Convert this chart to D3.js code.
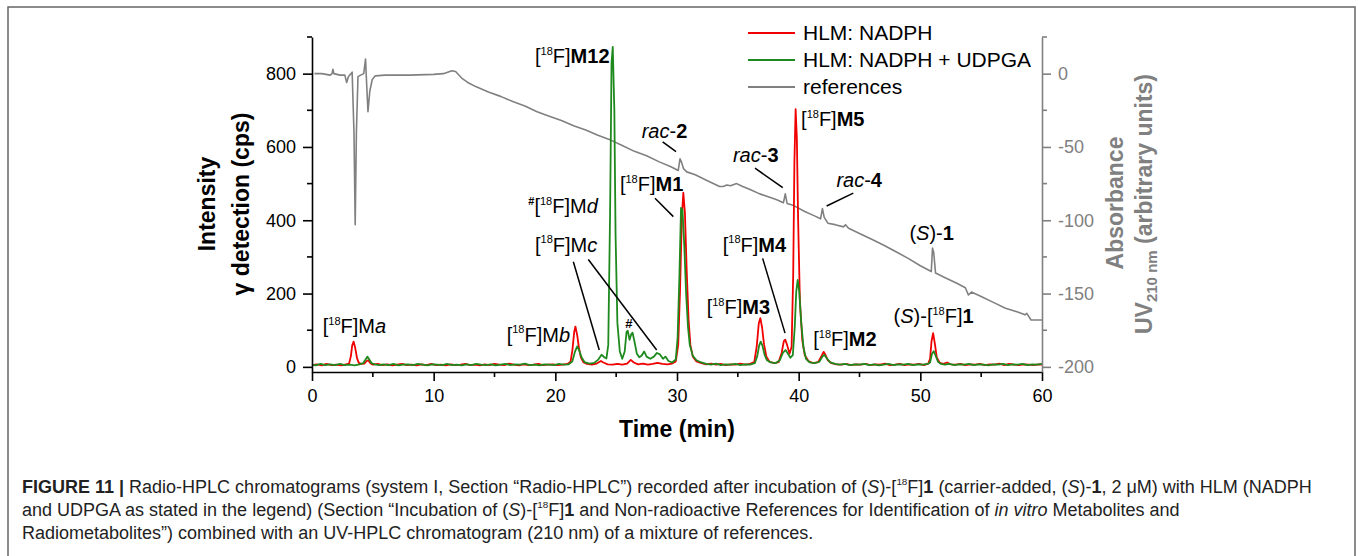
<!DOCTYPE html>
<html><head><meta charset="utf-8">
<script src="https://cdn.jsdelivr.net/npm/d3@7"></script>
<style>body{margin:0;background:#fff}svg{display:block;font-family:"Liberation Sans",Arial,Helvetica,sans-serif}</style>
</head><body><svg id="c" width="1358" height="556"></svg>
<script>
// ---------------- data ----------------
const timeTicks = [0, 10, 20, 30, 40, 50, 60];
const timeMinor = [5, 15, 25, 35, 45, 55];
const cpsTicks = [0, 200, 400, 600, 800];
const cpsMinor = [100, 300, 500, 700, 900];
const uvTicks = [0, -50, -100, -150, -200];
const uvMinor = [25, -25, -75, -125, -175];
const seriesNames = ["HLM: NADPH", "HLM: NADPH + UDPGA", "references"];

// radio trace, HLM: NADPH  [time (min), cps]
const redNADPH = [[0,5],[0.4,7],[0.8,4],[1.2,8],[1.6,5],[2.0,6],[2.4,4],[2.8,7],[3.05,9],
[3.2,30],[3.3,58],[3.42,69],[3.55,52],[3.7,24],[3.85,11],[4.05,8],[4.3,9],[4.5,16],[4.62,18],[4.8,10],[5.0,6],
[5.4,8],[5.8,5],[6.2,7],[6.6,4],[7.0,6],[7.4,8],[7.8,5],[8.2,6],[8.6,4],[9.0,7],[9.4,5],[9.8,8],[10.2,5],[10.6,6],[11.0,4],[11.4,7],[11.8,5],[12.2,6],[12.6,8],[13.0,5],[13.4,6],[13.8,4],[14.2,7],[14.6,5],[15.0,8],[15.4,6],[15.8,5],[16.2,9],[16.6,6],[17.0,4],[17.4,7],[17.8,5],[18.2,6],[18.6,8],[19.0,5],[19.4,6],[19.8,7],[20.2,5],[20.6,6],[21.0,8],[21.25,14],
[21.4,45],[21.55,95],[21.65,110],[21.8,86],[21.95,50],[22.1,26],[22.3,13],[22.6,8],[23.0,6],[23.4,9],[23.75,16],[23.95,12],[24.3,7],[24.7,6],[25.1,8],[25.5,6],[25.9,9],[26.2,19],[26.45,12],[26.8,7],[27.2,9],[27.6,6],[28.0,8],[28.4,11],[28.8,8],[29.2,7],[29.6,9],[29.9,15],
[30.1,60],[30.25,210],[30.4,410],[30.52,475],[30.65,420],[30.8,260],[30.95,130],[31.1,60],[31.3,28],[31.6,15],[32.0,10],[32.4,7],[32.8,9],[33.2,6],[33.6,8],[34.0,5],[34.4,7],[34.8,6],[35.2,9],[35.6,6],[36.0,8],[36.35,13],
[36.55,55],[36.72,118],[36.85,133],[37.0,106],[37.15,62],[37.35,28],[37.6,14],[38.0,10],[38.35,13],[38.6,38],[38.78,70],[38.9,74],[39.05,60],[39.25,36],[39.42,55],
[39.55,250],[39.65,560],[39.75,703],[39.85,625],[39.95,410],[40.1,180],[40.3,72],[40.5,32],[40.8,16],[41.2,10],[41.6,13],[41.88,30],[42.05,41],[42.2,33],[42.4,18],[42.7,10],[43.1,7],[43.5,6],[43.9,8],[44.3,5],[44.7,7],[45.1,6],[45.5,8],[45.9,5],[46.3,7],[46.7,6],[47.1,9],[47.5,5],[47.9,6],[48.3,8],[48.7,5],[49.1,7],[49.5,6],[49.9,8],[50.3,5],[50.65,9],
[50.8,22],[50.92,70],[51.05,92],[51.2,62],[51.35,26],[51.6,11],[51.9,8],[52.2,12],[52.5,7],[52.9,6],[53.3,8],[53.7,5],[54.1,7],[54.5,6],[54.9,8],[55.3,5],[55.7,7],[56.1,6],[56.5,9],[56.9,5],[57.3,8],[57.7,6],[58.1,5],[58.5,7],[58.9,6],[59.3,5],[59.7,7],[60,6]];

// radio trace, HLM: NADPH + UDPGA  [time (min), cps]
const greenUDPGA = [[0,6],[0.3,4],[0.7,8],[1.1,5],[1.5,7],[1.9,5],[2.3,8],[2.7,5],[3.1,6],[3.5,4],[3.9,7],[4.2,10],[4.4,20],[4.55,28],[4.7,21],[4.9,10],[5.15,7],
[5.5,5],[5.9,7],[6.3,5],[6.7,8],[7.1,4],[7.5,6],[7.9,7],[8.3,5],[8.7,8],[9.1,6],[9.5,4],[9.9,7],[10.3,6],[10.7,5],[11.1,8],[11.5,5],[11.9,6],[12.3,4],[12.7,7],[13.1,5],[13.5,8],[13.9,6],[14.3,5],[14.7,7],[15.1,4],[15.5,6],[15.9,8],[16.3,5],[16.7,7],[17.1,6],[17.5,9],[17.9,5],[18.3,6],[18.7,4],[19.1,7],[19.5,6],[19.9,5],[20.3,8],[20.7,6],[21.1,7],[21.4,15],
[21.6,40],[21.8,56],[21.95,46],[22.15,26],[22.4,13],[22.8,9],[23.2,11],[23.5,19],[23.8,33],[24.0,27],[24.2,23],[24.35,60],[24.5,420],[24.62,830],[24.72,873],[24.85,700],[24.95,360],[25.1,120],[25.3,42],[25.5,22],[25.7,42],[25.85,95],[25.95,99],[26.1,74],[26.25,90],[26.35,93],[26.5,70],[26.7,36],[26.9,26],[27.1,31],[27.3,42],[27.5,28],[27.8,22],[28.1,28],[28.35,38],[28.6,34],[28.85,22],[29.05,28],[29.3,16],[29.6,12],[29.9,20],
[30.05,80],[30.2,250],[30.33,434],[30.45,428],[30.6,330],[30.75,200],[30.9,110],[31.05,60],[31.3,30],[31.6,18],[32.0,12],[32.4,8],[32.8,6],[33.2,9],[33.6,5],[34.0,7],[34.4,6],[34.8,8],[35.2,5],[35.6,7],[36.0,6],[36.4,10],
[36.6,30],[36.75,58],[36.88,69],[37.02,58],[37.2,33],[37.4,18],[37.7,12],[38.1,10],[38.45,18],[38.7,38],[38.92,46],[39.12,36],[39.32,25],[39.52,32],[39.68,110],[39.8,205],[39.92,237],[40.05,205],[40.2,125],[40.4,52],[40.6,22],[40.9,12],[41.3,10],[41.7,14],[41.95,28],[42.1,33],[42.3,24],[42.6,12],[43.0,8],[43.4,6],[43.8,8],[44.2,5],[44.6,7],[45.0,6],[45.4,8],[45.8,5],[46.2,7],[46.6,4],[47.0,6],[47.4,8],[47.8,5],[48.2,7],[48.6,6],[49.0,8],[49.4,5],[49.8,7],[50.2,6],[50.6,8],[50.8,12],
[50.95,35],[51.1,43],[51.25,31],[51.45,14],[51.7,8],[52.0,6],[52.4,8],[52.8,5],[53.2,7],[53.6,6],[54.0,8],[54.4,5],[54.8,7],[55.2,6],[55.6,4],[56.0,7],[56.4,6],[56.8,8],[57.2,5],[57.6,7],[58.0,6],[58.4,8],[58.8,5],[59.2,7],[59.6,6],[60,8]];

// UV trace of references [time (min), absorbance (a.u.)]
const uvRefs = [[0.2,0],[0.8,0],[1.5,-1],[1.65,0],[1.72,3],[1.8,0],[2.3,-1],[2.7,-1],[2.85,-6],[3.0,-2],[3.2,0],[3.3,1],[3.45,-40],[3.55,-103],[3.65,-40],[3.78,-2],[4.0,-1],[4.25,0],[4.4,10],[4.48,-5],[4.6,-26],[4.75,-12],[4.95,-4],[5.2,-1.5],
[6,-1],[8,-1],[10,-0.5],[10.8,0],[11.5,2],[11.8,1.5],[12.3,-3],[12.8,-6],[13.5,-9],[14.5,-12.5],[15.5,-15.5],[16.5,-19],[17.5,-22],[18.5,-26],[19.5,-29],[20.5,-32],[21.5,-35.5],[22.5,-38.5],[23.5,-42],[24.6,-45.5],[25.5,-49],[26.5,-53],[27.5,-56],[28.5,-60],[29.5,-63.5],
[30.1,-66],[30.25,-58],[30.35,-60],[30.55,-65],[30.8,-67],[31.5,-69],[32.5,-73],[33.5,-77],[33.8,-77],[34.1,-76],[34.4,-76.5],[34.9,-75],[35.4,-77],[36.0,-79],[36.8,-82],[37.5,-84],[38.2,-86],[38.75,-88],[38.9,-82],[39.05,-88.5],[39.6,-90],[40.5,-94],[41.3,-97],[41.8,-99],[41.95,-92],[42.1,-98],[42.4,-102],[43.0,-103],[43.7,-104.5],[43.85,-103],[44.1,-105.5],
[45,-109],[46,-113],[47,-117],[48,-121.5],[49,-126],[50,-131],[50.9,-135],[51.0,-119],[51.1,-122],[51.25,-136],[52,-139],[53,-143],[53.7,-146],[53.95,-151],[54.2,-149],[55,-152],[56,-156],[57,-160],[58,-162.5],[58.6,-164.5],[58.75,-163.5],[59.1,-168],[60,-168]];

// peak labels: [time at text start, cps at baseline, rich-text parts]
const peakLabels = [
  [0.88, 92,  [["[",""],["18","sup"],["F]M",""],["a","i"]]],
  [16.0, 69,  [["[",""],["18","sup"],["F]M",""],["b","i"]]],
  [18.33, 314,[["[",""],["18","sup"],["F]M",""],["c","i"]]],
  [17.78, 420,[["#","bsup"],["[",""],["18","sup"],["F]M",""],["d","i"]]],
  [18.33, 829,[["[",""],["18","sup"],["F]",""],["M12","b"]]],
  [25.31, 480,[["[",""],["18","sup"],["F]",""],["M1","b"]]],
  [27.1, 624, [["rac","i"],["-",""],["2","b"]]],
  [34.6, 560, [["rac","i"],["-",""],["3","b"]]],
  [40.2, 657, [["[",""],["18","sup"],["F]",""],["M5","b"]]],
  [43.1, 491, [["rac","i"],["-",""],["4","b"]]],
  [33.76, 314,[["[",""],["18","sup"],["F]",""],["M4","b"]]],
  [32.44, 143,[["[",""],["18","sup"],["F]",""],["M3","b"]]],
  [41.2, 57,  [["[",""],["18","sup"],["F]",""],["M2","b"]]],
  [49.1, 346, [["(",""],["S","i"],[")-",""],["1","b"]]],
  [47.8, 119, [["(",""],["S","i"],[")-[",""],["18","sup"],["F]",""],["1","b"]]]
];
const hashMark = [25.75, 107];
// leader lines [t1, cps1, t2, cps2]
const leaders = [
  [28.82, 614, 29.92, 587],
  [36.41, 542, 38.69, 489],
  [44.49, 474, 42.30, 439],
  [28.19, 460, 29.70, 410],
  [21.48, 287, 23.61, 46],
  [22.71, 293, 28.33, 46],
  [37.04, 296, 38.88, 92]
];

const captionLines = [
  [["FIGURE 11 | ","b"],["Radio-HPLC chromatograms (system I, Section “Radio-HPLC”) recorded after incubation of (",""],["S","i"],[")-[",""],["18","sup"],["F]",""],["1","b"],[" (carrier-added, (",""],["S","i"],[")-",""],["1","b"],[", 2 μM) with HLM (NADPH",""]],
  [["and UDPGA as stated in the legend) (Section “Incubation of (",""],["S","i"],[")-[",""],["18","sup"],["F]",""],["1","b"],[" and Non-radioactive References for Identification of ",""],["in vitro","i"],[" Metabolites and",""]],
  [["Radiometabolites”) combined with an UV-HPLC chromatogram (210 nm) of a mixture of references.",""]]
];

// ---------------- drawing ----------------
const svg = d3.select("#c");
const X0 = 312, X1 = 1042, Y0 = 372, Y1 = 37;
const RED = "#f00000", GREEN = "#1e8a1e", GRAY = "#808080";

svg.append("rect").attr("x", 8).attr("y", 7).attr("width", 1347).attr("height", 600)
  .attr("fill", "none").attr("stroke", "#666").attr("stroke-width", 1.5);

const x = d3.scaleLinear().domain([0, 60]).range([X0, X1]);
const yL = d3.scaleLinear().domain([-14, 900]).range([Y0, Y1]);
const yR = d3.scaleLinear().domain([(-14 - 800) / 4, (900 - 800) / 4]).range([Y0, Y1]);

function rich(g, px, py, parts, size, opts) {
  const t = g.append("text").attr("x", px).attr("y", py).attr("font-size", size);
  if (opts && opts.anchor) t.attr("text-anchor", opts.anchor);
  let raised = 0;
  parts.forEach(([s, st]) => {
    const sp = t.append("tspan").text(s);
    const isSup = st === "sup" || st === "bsup";
    const target = isSup ? size * 0.42 : 0;
    if (target !== raised) { sp.attr("dy", -(target - raised)); raised = target; }
    if (isSup) sp.attr("font-size", size * 0.55);
    if (st === "b" || st === "bsup") sp.attr("font-weight", "bold");
    if (st === "i") sp.attr("font-style", "italic");
  });
  return t;
}

// traces
const lineR = d3.line().x(d => x(d[0])).y(d => yR(d[1]));
const lineL = d3.line().x(d => x(d[0])).y(d => yL(d[1]));
svg.append("path").attr("d", lineR(uvRefs)).attr("fill", "none").attr("stroke", GRAY).attr("stroke-width", 1.6).attr("stroke-linejoin", "round");
svg.append("path").attr("d", lineL(redNADPH)).attr("fill", "none").attr("stroke", RED).attr("stroke-width", 1.8).attr("stroke-linejoin", "round");
svg.append("path").attr("d", lineL(greenUDPGA)).attr("fill", "none").attr("stroke", GREEN).attr("stroke-width", 1.8).attr("stroke-linejoin", "round");

// axes
const fontAx = 18;
const gx = svg.append("g").attr("transform", `translate(0,${Y0})`)
  .call(d3.axisBottom(x).tickValues(timeTicks).tickSize(9).tickSizeOuter(0).tickPadding(8).tickFormat(d3.format("d")));
gx.append("g").selectAll("line").data(timeMinor).join("line")
  .attr("x1", d => x(d)).attr("x2", d => x(d)).attr("y1", 0).attr("y2", 5).attr("stroke", "#000");
const gl = svg.append("g").attr("transform", `translate(${X0},0)`)
  .call(d3.axisLeft(yL).tickValues(cpsTicks).tickSize(9).tickSizeOuter(0).tickPadding(7));
gl.append("g").selectAll("line").data(cpsMinor).join("line")
  .attr("y1", d => yL(d)).attr("y2", d => yL(d)).attr("x1", 0).attr("x2", -5).attr("stroke", "#000");
const gr = svg.append("g").attr("transform", `translate(${X1},0)`)
  .call(d3.axisRight(yR).tickValues(uvTicks).tickSize(9).tickSizeOuter(0).tickPadding(7).tickFormat(d => d < 0 ? "-" + Math.abs(d) : d));
gr.append("g").selectAll("line").data(uvMinor).join("line")
  .attr("y1", d => yR(d)).attr("y2", d => yR(d)).attr("x1", 0).attr("x2", 5).attr("stroke", GRAY);
[gx, gl].forEach(g => { g.selectAll("path,line").attr("stroke", "#000").attr("stroke-width", 1.6); g.selectAll("text").attr("font-size", fontAx).attr("fill", "#000").attr("font-family", "Liberation Sans, Arial, sans-serif"); });
gr.selectAll("path,line").attr("stroke", GRAY).attr("stroke-width", 1.6);
gr.selectAll("text").attr("font-size", fontAx).attr("fill", GRAY).attr("font-family", "Liberation Sans, Arial, sans-serif");

// axis titles
const tsz = 23;
svg.append("text").attr("transform", "translate(215,204) rotate(-90)").attr("text-anchor", "middle")
  .attr("font-size", tsz).attr("font-weight", "bold").text("Intensity");
svg.append("text").attr("transform", "translate(249,204) rotate(-90)").attr("text-anchor", "middle")
  .attr("font-size", tsz).attr("font-weight", "bold").text("γ detection (cps)");
svg.append("text").attr("x", (X0 + X1) / 2).attr("y", 437).attr("text-anchor", "middle")
  .attr("font-size", tsz).attr("font-weight", "bold").text("Time (min)");
svg.append("text").attr("transform", "translate(1123,203) rotate(-90)").attr("text-anchor", "middle")
  .attr("font-size", tsz).attr("font-weight", "bold").attr("fill", GRAY).text("Absorbance");
const uvT = svg.append("text").attr("transform", "translate(1152,204) rotate(-90)").attr("text-anchor", "middle")
  .attr("font-size", tsz).attr("font-weight", "bold").attr("fill", GRAY);
uvT.append("tspan").text("UV");
uvT.append("tspan").attr("font-size", 15).attr("dy", 5).text("210 nm");
uvT.append("tspan").attr("dy", -5).text(" (arbitrary units)");

// legend
const legColors = [RED, GREEN, GRAY];
const leg = svg.append("g");
seriesNames.forEach((n, i) => {
  const yy = 33 + i * 27;
  leg.append("line").attr("x1", 748).attr("x2", 795).attr("y1", yy).attr("y2", yy)
    .attr("stroke", legColors[i]).attr("stroke-width", 1.8);
  leg.append("text").attr("x", 803).attr("y", yy + 7).attr("font-size", 21).text(n);
});

// annotations
const ann = svg.append("g");
peakLabels.forEach(([t, v, parts]) => rich(ann, x(t), yL(v), parts, 20));
ann.append("text").attr("x", x(hashMark[0])).attr("y", yL(hashMark[1])).attr("font-size", 13)
  .attr("font-weight", "bold").text("#");
ann.selectAll("line").data(leaders).join("line")
  .attr("x1", d => x(d[0])).attr("y1", d => yL(d[1])).attr("x2", d => x(d[2])).attr("y2", d => yL(d[3]))
  .attr("stroke", "#000").attr("stroke-width", 1.5);

// caption
const cap = svg.append("g").attr("fill", "#222");
captionLines.forEach((parts, i) => rich(cap, 22, 493 + i * 23, parts, 18));
</script>
</body></html>
